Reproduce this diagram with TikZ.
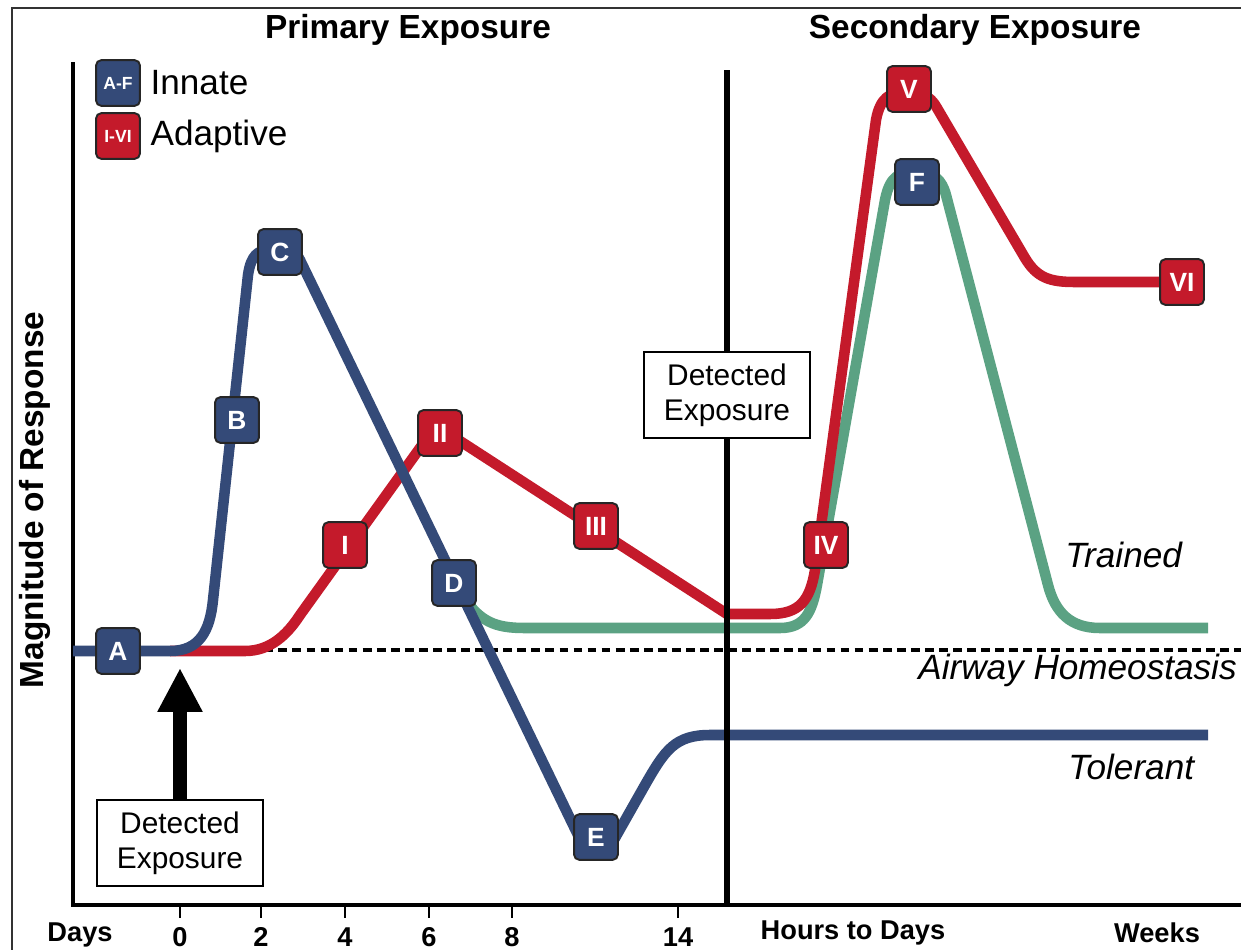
\documentclass[tikz,border=0pt]{standalone}
\usepackage{fontspec}
\setmainfont{Liberation Sans}
\usetikzlibrary{arrows.meta,positioning}
\definecolor{innblue}{HTML}{344A78}
\definecolor{adpred}{HTML}{C41A2B}
\definecolor{trgreen}{HTML}{5BA283}

\begin{document}
\begin{tikzpicture}[x=0.02cm,y=-0.02cm,
  track/.style={line width=6pt,line join=round},
  tag/.style={draw=black!85,line width=1.1pt,rounded corners=3pt,minimum width=25pt,minimum height=26pt,inner sep=0pt,text=white,font=\bfseries\fontsize{15}{15}\selectfont},
  innbox/.style={tag,fill=innblue},
  adpbox/.style={tag,fill=adpred},
  detbox/.style={draw,line width=1.1pt,fill=white,align=center,minimum width=94pt,minimum height=49pt,inner sep=2pt,font=\fontsize{17}{20}\selectfont},
  axlbl/.style={font=\bfseries\fontsize{15.5}{15.5}\selectfont},
  heading/.style={font=\bfseries\fontsize{19}{19}\selectfont},
  status/.style={inner sep=0pt,font=\itshape\fontsize{20}{20}\selectfont}]
  \useasboundingbox (0,0) rectangle (1241,950);
  \draw[black!80,line width=1.1pt] (12,950) -- (12,8) -- (1241,8);
  \draw[line width=2.3pt] (73,62) -- (73,905) -- (1241,905);
  \draw[line width=1.4pt] (180,905) -- (180,918) (261,905) -- (261,918) (345,905) -- (345,918)
    (429,905) -- (429,918) (512,905) -- (512,918) (678,905) -- (678,918);

  \node[heading] (prim) at (408,30) {Primary Exposure};
  \node[heading] (sec) at (975,30) {Secondary Exposure};
  \node[heading,rotate=90] (ylab) at (35,500) {Magnitude of Response};

  \draw[line width=2pt,dash pattern=on 5pt off 3pt] (180,650) -- (1241,650);

  \draw[track,trgreen] (462,595) .. controls (480,622) and (495,628) .. (525,628) -- (780,628)
    .. controls (805,628) and (812,612) .. (817,585) -- (885,200)
    .. controls (890,175) and (900,172) .. (917,172) .. controls (934,172) and (942,180) .. (946,195)
    -- (1048,585) .. controls (1055,612) and (1070,628) .. (1100,628) -- (1208,628);
  \draw[track,adpred] (170,651) -- (245,651) .. controls (270,651) and (287,635) .. (300,615) -- (420,448)
    .. controls (430,434) and (435,432) .. (440,432) .. controls (446,432) and (452,436) .. (460,441)
    -- (727,614) -- (770,614) .. controls (800,614) and (810,600) .. (815,570) -- (876,120)
    .. controls (880,98) and (890,92) .. (905,92) .. controls (920,92) and (930,95) .. (937,108)
    -- (1025,258) .. controls (1037,278) and (1050,282) .. (1075,282) -- (1182,282);
  \draw[track,innblue] (73,651) -- (170,651) .. controls (200,651) and (210,630) .. (213,600) -- (248,275)
    .. controls (251,255) and (258,250) .. (270,250) -- (285,250) .. controls (292,250) and (296,252) .. (300,260)
    -- (578,835) .. controls (585,850) and (590,852) .. (597,852) .. controls (605,852) and (610,848) .. (615,838)
    -- (645,785) .. controls (665,750) and (675,735) .. (710,735) -- (1208,735);

  \draw[line width=3.4pt] (727,70) -- (727,905);

  \node[detbox] (det1) at (180,843) {Detected\\Exposure};
  \node[detbox] (det2) at (727,395) {Detected\\Exposure};
  \coordinate (tip) at (180,668);
  \draw[line width=8pt,-{Triangle[width=24pt,length=25pt]}] (det1) -- (tip);

  \node[innbox] (iA) at (118,651) {A};
  \node[innbox] (iB) at (237,420) {B};
  \node[innbox] (iC) at (280,252) {C};
  \node[innbox] (iD) at (454,583) {D};
  \node[innbox] (iE) at (596,837) {E};
  \node[innbox] (iF) at (917,182) {F};
  \node[adpbox] (a1) at (345,545) {I};
  \node[adpbox] (a2) at (440,433) {II};
  \node[adpbox] (a3) at (596,526) {III};
  \node[adpbox] (a4) at (826,545) {IV};
  \node[adpbox] (a5) at (909,89) {V};
  \node[adpbox] (a6) at (1182,282) {VI};

  \node[innbox] (leginn) at (118,83) {\fontsize{10}{10}\selectfont A-F};
  \node[right=2pt of leginn,font=\fontsize{20}{20}\selectfont] (innlbl) {Innate};
  \node[adpbox] (legadp) at (118,136) {\fontsize{10}{10}\selectfont I-VI};
  \node[right=2pt of legadp,font=\fontsize{20}{20}\selectfont] (adplbl) {Adaptive};

  \node[status,anchor=west] (trained) at (1065,555) {Trained};
  \node[status,anchor=east] (homeo) at (1237,670) {Airway Homeostasis};
  \node[status,anchor=west] (tolerant) at (1068,767) {Tolerant};

  \node[axlbl] (days) at (80,935) {Days};
  \node[axlbl] (d0) at (180,937) {0};
  \node[axlbl] (d2) at (261,937) {2};
  \node[axlbl] (d4) at (345,937) {4};
  \node[axlbl] (d6) at (429,937) {6};
  \node[axlbl] (d8) at (512,937) {8};
  \node[axlbl] (d14) at (678,937) {14};
  \node[axlbl] (hrs) at (853,933) {Hours to Days};
  \node[axlbl] (wks) at (1157,933) {Weeks};
\end{tikzpicture}
\end{document}
